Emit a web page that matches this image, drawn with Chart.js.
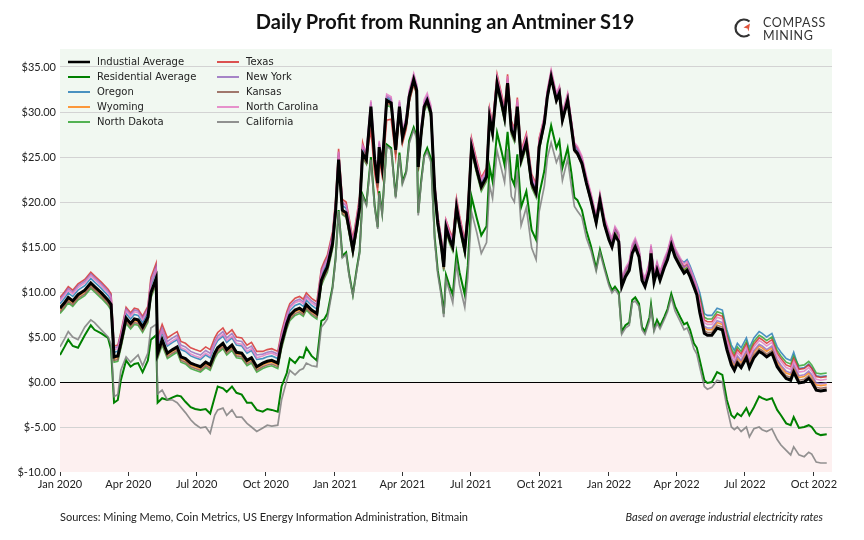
<!DOCTYPE html>
<html>
<head>
<meta charset="utf-8">
<script src="https://cdn.jsdelivr.net/npm/chart.js@4.4.0/dist/chart.umd.min.js"></script>
<style>
  body { margin: 0; background: #fff; font-family: Lato, "Open Sans", sans-serif; color: #222; }
  #page { position: relative; width: 864px; height: 540px; overflow: hidden; }
  #wrap { position: absolute; left: 0; top: 0; width: 864px; height: 540px; }
  #title { position: absolute; top: 9px; left: 0; width: 890px; text-align: center; font-weight: bold; font-size: 20px; color: #111; }
  #logo { position: absolute; left: 733px; top: 15px; width: 110px; height: 28px; }
  #logo svg { position: absolute; left: 0; top: 2px; }
  #logo .t { position: absolute; left: 30px; font-size: 12.5px; letter-spacing: 0.6px; color: #333; line-height: 12px; }
  #src { position: absolute; left: 60px; top: 510px; font-size: 11px; color: #222; }
  #note { position: absolute; right: 41px; top: 510px; font-size: 11px; font-style: italic; color: #222; }
</style>
</head>
<body>
<div id="page">
  <div id="wrap"><canvas id="profitChart"></canvas></div>
  <div id="title">Daily Profit from Running an Antminer S19</div>
  <div id="logo">
    <svg width="22" height="22" viewBox="0 0 22 22">
      <path d="M16.5 4.5 A8.5 8.5 0 1 0 16.5 17.5" fill="none" stroke="#333" stroke-width="2.2"/>
      <polygon points="17,6.5 10.5,10.5 14.5,11.5 15.5,14.5" fill="#e0533a"/>
    </svg>
    <div class="t" style="top:2px">COMPASS</div>
    <div class="t" style="top:15px">MINING</div>
  </div>
  <div id="src">Sources: Mining Memo, Coin Metrics, US Energy Information Administration, Bitmain</div>
  <div id="note">Based on average industrial electricity rates</div>
</div>
<script>
// days since 1 Jan 2020
const days = [0,6,11,17,24,33,41,46,55,64,68,72,77,81,88,94,99,104,110,117,
  121,128,130,136,143,150,156,161,167,174,180,187,194,200,206,210,217,222,229,235,242,249,255,262,
  270,276,282,290,295,302,306,313,319,324,328,335,342,348,352,356,363,
  367,371,376,381,385,390,395,399,403,408,
  414,419,423,425,429,435,441,447,452,456,461,465,471,475,477,481,
  485,489,494,499,503,508,511,514,519,523,528,532,539,543,548,555,561,568,572,576,582,588,592,596,601,605,609,614,621,628,634,638,
  645,649,654,661,665,669,676,681,685,689,695,701,707,714,719,725,
  731,735,739,744,748,753,758,762,766,771,775,779,785,787,791,795,799,805,809,814,819,826,831,835,839,844,848,
  852,858,862,868,875,882,888,894,898,902,907,914,918,924,931,935,941,948,955,960,967,973,977,984,991,997,1001,1007,1013,1021];

const industrial = [8.2,8.8,9.4,9.0,9.7,10.2,11.0,10.6,9.9,9.1,8.6,2.8,2.9,4.3,7.1,6.5,7.0,6.9,6.1,7.2,
  9.9,11.5,3.2,4.7,3.2,3.6,3.9,2.8,2.6,2.1,1.9,1.7,2.2,1.9,3.2,3.8,4.3,3.6,4.1,3.3,3.2,2.4,2.7,1.7,
  2.1,2.3,2.4,2.1,4.3,6.5,7.4,8.0,8.2,7.9,8.6,8.0,7.6,11.3,12.1,12.8,15.4,
  19.0,24.7,19.1,18.8,17.0,14.7,17.2,19.4,25.4,24.7,
  30.6,24.7,22.1,26.1,23.9,31.3,31.0,25.8,30.6,27.2,28.8,31.7,33.6,32.4,23.9,27.7,
  30.6,31.3,29.9,21.3,17.7,15.0,12.8,17.2,15.8,15.0,19.4,17.5,14.7,18.3,26.1,23.6,21.7,22.8,29.4,27.7,33.2,31.0,29.4,33.2,28.0,27.2,30.6,24.7,26.6,22.1,21.0,26.1,
  28.8,31.7,33.9,31.3,32.1,29.1,31.3,28.3,25.8,25.4,24.3,22.1,20.2,17.7,20.2,17.5,
  15.8,15.0,16.3,15.6,10.6,11.7,12.4,14.3,15.0,13.9,11.3,10.6,12.4,14.3,11.1,12.4,11.3,12.8,13.6,15.2,13.9,12.8,12.1,12.4,11.7,10.6,9.7,
  7.7,5.4,5.2,5.2,6.0,5.8,3.6,1.9,1.3,2.1,1.6,2.7,1.6,2.7,3.4,3.2,2.8,3.2,1.7,1.1,0.4,0.2,1.1,-0.1,0.0,0.4,0.0,-0.9,-1.0,-0.9];

const residential = [3.0,3.9,4.7,4.0,3.8,5.2,6.3,5.8,5.4,4.9,3.6,-2.3,-2.0,0.2,2.4,1.7,2.0,2.1,1.1,2.4,
  4.7,5.2,-2.3,-1.8,-2.0,-1.7,-1.5,-1.6,-2.2,-2.8,-3.0,-3.1,-3.0,-3.5,-1.7,-0.5,-0.7,-1.1,-0.5,-1.2,-1.4,-2.3,-2.3,-3.1,
  -3.3,-3.0,-3.1,-3.3,-0.5,1.0,2.6,2.1,2.8,2.7,3.8,2.9,2.4,6.8,7.0,7.6,10.6,
  13.8,19.1,14.0,14.4,12.0,9.7,12.5,14.5,20.8,19.8,
  25.0,19.6,17.2,21.2,18.8,26.4,26.0,20.6,25.5,22.2,23.4,26.8,28.3,27.3,18.8,22.4,
  25.2,26.0,24.8,16.0,12.4,9.8,7.6,11.9,10.6,9.7,14.3,12.2,9.7,12.9,20.6,18.2,16.3,17.3,23.9,22.3,27.7,25.6,24.1,27.8,22.7,21.9,25.3,19.4,21.2,16.9,15.8,20.8,
  23.5,26.4,28.5,26.0,26.8,23.8,26.0,23.2,20.5,20.2,19.1,16.8,15.1,12.6,14.7,12.8,
  11.0,10.2,10.6,10.0,5.6,6.3,6.6,9.1,9.4,8.7,6.1,5.6,7.2,8.6,5.9,6.9,6.2,7.3,8.1,9.8,8.4,7.2,6.4,6.6,5.8,4.3,3.8,
  2.4,0.2,-0.1,0.0,1.1,0.8,-2.0,-3.7,-4.0,-3.5,-3.8,-2.9,-3.7,-2.8,-1.6,-1.8,-2.0,-1.8,-3.1,-3.7,-4.6,-4.8,-3.9,-5.1,-5.0,-4.8,-5.0,-5.7,-5.9,-5.8];

const oregon = [8.7,9.3,9.9,9.5,10.2,10.7,11.5,11.1,10.4,9.6,9.1,3.3,3.4,4.8,7.6,7.0,7.5,7.4,6.6,7.7,
  10.7,12.3,4.0,5.5,4.0,4.4,4.7,3.6,3.4,2.9,2.7,2.5,3.0,2.7,4.0,4.6,5.1,4.4,4.9,4.1,4.0,3.2,3.5,2.5,
  2.6,2.8,2.9,2.6,4.8,7.0,7.9,8.5,8.7,8.4,9.1,8.5,8.1,11.8,12.6,13.3,15.9,
  19.5,25.2,19.6,19.3,17.5,15.2,17.7,19.9,25.9,25.2,
  30.9,25.0,22.4,26.4,24.2,31.6,31.3,26.1,30.9,27.5,29.1,32.0,33.9,32.7,24.2,28.0,
  30.9,31.6,30.2,21.6,18.0,15.3,13.1,17.5,16.1,15.3,19.7,17.8,15.0,18.6,26.4,23.9,22.0,23.1,29.7,28.0,33.5,31.3,29.7,33.5,28.3,27.5,30.9,25.0,26.9,22.4,21.3,26.4,
  29.2,32.1,34.3,31.7,32.5,29.5,31.7,28.7,26.2,25.8,24.7,22.5,20.6,18.1,20.6,17.9,
  16.6,15.8,17.1,16.4,11.4,12.5,13.2,15.1,15.8,14.7,12.1,11.4,13.2,15.1,11.9,13.2,12.1,13.6,14.4,16.0,14.7,13.6,13.3,13.6,12.9,11.8,10.9,
  9.9,7.6,7.4,7.4,8.2,8.0,5.8,4.1,3.5,4.3,3.8,4.9,3.8,4.9,5.6,5.4,5.0,5.4,3.9,3.3,2.6,2.4,3.3,1.5,1.6,2.0,1.6,0.7,0.6,0.7];

const wyoming = [8.0,8.6,9.2,8.8,9.5,10.0,10.8,10.4,9.7,8.9,8.4,2.6,2.7,4.1,6.9,6.3,6.8,6.7,5.9,7.0,
  9.7,11.3,3.0,4.5,3.0,3.4,3.7,2.6,2.4,1.9,1.7,1.5,2.0,1.7,3.0,3.6,4.1,3.4,3.9,3.1,3.0,2.2,2.5,1.5,
  1.9,2.1,2.2,1.9,4.1,6.3,7.2,7.8,8.0,7.7,8.4,7.8,7.4,11.1,11.9,12.6,15.2,
  18.8,24.5,18.9,18.6,16.8,14.5,17.0,19.2,25.2,24.5,
  30.4,24.5,21.9,25.9,23.7,31.1,30.8,25.6,30.4,27.0,28.6,31.5,33.4,32.2,23.7,27.5,
  30.4,31.1,29.7,21.1,17.5,14.8,12.6,17.0,15.6,14.8,19.2,17.3,14.5,18.1,25.9,23.4,21.5,22.6,29.2,27.5,33.0,30.8,29.2,33.0,27.8,27.0,30.4,24.5,26.4,21.9,20.8,25.9,
  28.8,31.7,33.9,31.3,32.1,29.1,31.3,28.3,25.8,25.4,24.3,22.1,20.2,17.7,20.2,17.5,
  16.2,15.4,16.7,16.0,11.0,12.1,12.8,14.7,15.4,14.3,11.7,11.0,12.8,14.7,11.5,12.8,11.7,13.2,14.0,15.6,14.3,13.2,12.5,12.8,12.1,11.0,10.1,
  8.3,6.0,5.8,5.8,6.6,6.4,4.2,2.5,1.9,2.7,2.2,3.3,2.2,3.3,4.0,3.8,3.4,3.8,2.3,1.7,1.0,0.8,1.7,0.5,0.6,1.0,0.6,-0.3,-0.4,-0.3];

const northDakota = [7.6,8.2,8.8,8.4,9.1,9.6,10.4,10.0,9.3,8.5,8.0,2.2,2.3,3.7,6.5,5.9,6.4,6.3,5.5,6.6,
  9.3,10.9,2.6,4.1,2.6,3.0,3.3,2.2,2.0,1.5,1.3,1.1,1.6,1.3,2.6,3.2,3.7,3.0,3.5,2.7,2.6,1.8,2.1,1.1,
  1.5,1.7,1.8,1.5,3.7,5.9,6.8,7.4,7.6,7.3,8.0,7.4,7.0,10.7,11.5,12.2,14.8,
  18.5,24.2,18.6,18.3,16.5,14.2,16.7,18.9,24.9,24.2,
  30.1,24.2,21.6,25.6,23.4,30.8,30.5,25.3,30.1,26.7,28.3,31.2,33.1,31.9,23.4,27.2,
  30.1,30.8,29.4,20.8,17.2,14.5,12.3,16.7,15.3,14.5,18.9,17.0,14.2,17.8,25.6,23.1,21.2,22.3,28.9,27.2,32.7,30.5,28.9,32.7,27.5,26.7,30.1,24.2,26.1,21.6,20.5,25.6,
  28.7,31.6,33.8,31.2,32.0,29.0,31.2,28.2,25.7,25.3,24.2,22.0,20.1,17.6,20.1,17.4,
  16.1,15.3,16.6,15.9,10.9,12.0,12.7,14.6,15.3,14.2,11.6,10.9,12.7,14.6,11.4,12.7,11.6,13.1,13.9,15.5,14.2,13.1,12.4,12.7,12.0,10.9,10.0,
  9.5,7.2,7.0,7.0,7.8,7.6,5.4,3.7,3.1,3.9,3.4,4.5,3.4,4.5,5.2,5.0,4.6,5.0,3.5,2.9,2.2,2.0,2.9,1.8,1.9,2.3,1.9,1.0,0.9,1.0];

const texas = [9.4,10.0,10.6,10.2,10.9,11.4,12.2,11.8,11.1,10.3,9.8,4.0,4.1,5.5,8.3,7.7,8.2,8.1,7.3,8.4,
  11.6,13.2,4.9,6.4,4.9,5.3,5.6,4.5,4.3,3.8,3.6,3.4,3.9,3.6,4.9,5.5,6.0,5.3,5.8,5.0,4.9,4.1,4.4,3.4,
  3.4,3.6,3.7,3.4,5.6,7.8,8.7,9.3,9.5,9.2,9.9,9.3,8.9,12.6,13.4,14.1,16.7,
  20.2,25.9,20.3,20.0,18.2,15.9,18.4,20.6,26.6,25.0,
  28.0,23.2,21.3,24.9,22.9,29.1,29.2,25.0,29.9,26.5,28.1,31.1,33.1,31.9,23.5,27.4,
  30.6,31.5,30.3,21.9,18.5,15.8,13.6,18.0,16.8,16.0,20.4,18.5,15.7,19.3,27.1,24.6,22.7,23.8,30.4,28.7,34.2,32.0,30.4,34.2,29.0,28.2,31.6,25.7,27.6,23.1,22.0,27.1,
  29.4,32.3,34.5,31.9,32.7,29.7,31.9,28.9,26.4,26.0,24.9,22.7,20.8,18.3,20.8,18.1,
  16.5,15.7,17.0,16.3,11.3,12.4,13.1,15.0,15.7,14.6,12.0,11.3,13.1,15.0,11.8,13.1,12.0,13.5,14.3,15.9,14.6,13.5,12.8,13.1,12.4,11.3,10.4,
  9.2,6.9,6.7,6.7,7.5,7.3,5.1,3.4,2.8,3.6,3.1,4.2,3.1,4.2,4.9,4.7,4.3,4.7,3.2,2.6,1.9,1.7,2.6,1.4,1.5,1.9,1.5,0.6,0.5,0.6];

const newYork = [9.2,9.8,10.4,10.0,10.7,11.2,12.0,11.6,10.9,10.1,9.6,3.8,3.9,5.3,8.1,7.5,8.0,7.9,7.1,8.2,
  11.2,12.8,4.5,6.0,4.5,4.9,5.2,4.1,3.9,3.4,3.2,3.0,3.5,3.2,4.5,5.1,5.6,4.9,5.4,4.6,4.5,3.7,4.0,3.0,
  3.1,3.3,3.4,3.1,5.3,7.5,8.4,9.0,9.2,8.9,9.6,9.0,8.6,12.3,13.1,13.8,16.4,
  19.8,25.5,19.9,19.6,17.8,15.5,18.0,20.2,26.2,25.5,
  31.1,25.2,22.6,26.6,24.4,31.8,31.5,26.3,31.1,27.7,29.3,32.2,34.1,32.9,24.4,28.2,
  31.1,31.8,30.4,21.8,18.2,15.5,13.3,17.7,16.3,15.5,19.9,18.0,15.2,18.8,26.6,24.1,22.2,23.3,29.9,28.2,33.7,31.5,29.9,33.7,28.5,27.7,31.1,25.2,27.1,22.6,21.5,26.6,
  29.3,32.2,34.4,31.8,32.6,29.6,31.8,28.8,26.3,25.9,24.8,22.6,20.7,18.2,20.7,18.0,
  16.4,15.6,16.9,16.2,11.2,12.3,13.0,14.9,15.6,14.5,11.9,11.2,13.0,14.9,11.7,13.0,11.9,13.4,14.2,15.8,14.5,13.4,12.7,13.0,12.3,11.2,10.3,
  8.5,6.2,6.0,6.0,6.8,6.6,4.4,2.7,2.1,2.9,2.4,3.5,2.4,3.5,4.2,4.0,3.6,4.0,2.5,1.9,1.2,1.0,1.9,0.7,0.8,1.2,0.8,-0.1,-0.2,-0.1];

const kansas = [7.8,8.4,9.0,8.6,9.3,9.8,10.6,10.2,9.5,8.7,8.2,2.4,2.5,3.9,6.7,6.1,6.6,6.5,5.7,6.8,
  9.5,11.1,2.8,4.3,2.8,3.2,3.5,2.4,2.2,1.7,1.5,1.3,1.8,1.5,2.8,3.4,3.9,3.2,3.7,2.9,2.8,2.0,2.3,1.3,
  1.7,1.9,2.0,1.7,3.9,6.1,7.0,7.6,7.8,7.5,8.2,7.6,7.2,10.9,11.7,12.4,15.0,
  18.6,24.3,18.7,18.4,16.6,14.3,16.8,19.0,25.0,24.3,
  30.3,24.4,21.8,25.8,23.6,31.0,30.7,25.5,30.3,26.9,28.5,31.4,33.3,32.1,23.6,27.4,
  30.3,31.0,29.6,21.0,17.4,14.7,12.5,16.9,15.5,14.7,19.1,17.2,14.4,18.0,25.8,23.3,21.4,22.5,29.1,27.4,32.9,30.7,29.1,32.9,27.7,26.9,30.3,24.4,26.3,21.8,20.7,25.8,
  28.6,31.5,33.7,31.1,31.9,28.9,31.1,28.1,25.6,25.2,24.1,21.9,20.0,17.5,20.0,17.3,
  15.9,15.1,16.4,15.7,10.7,11.8,12.5,14.4,15.1,14.0,11.4,10.7,12.5,14.4,11.2,12.5,11.4,12.9,13.7,15.3,14.0,12.9,12.2,12.5,11.8,10.7,9.8,
  8.0,5.7,5.5,5.5,6.3,6.1,3.9,2.2,1.6,2.4,1.9,3.0,1.9,3.0,3.7,3.5,3.1,3.5,2.0,1.4,0.7,0.5,1.4,0.2,0.3,0.7,0.3,-0.6,-0.7,-0.6];

const northCarolina = [9.0,9.6,10.2,9.8,10.5,11.0,11.8,11.4,10.7,9.9,9.4,3.6,3.7,5.1,7.9,7.3,7.8,7.7,6.9,8.0,
  10.9,12.5,4.2,5.7,4.2,4.6,4.9,3.8,3.6,3.1,2.9,2.7,3.2,2.9,4.2,4.8,5.3,4.6,5.1,4.3,4.2,3.4,3.7,2.7,
  2.9,3.1,3.2,2.9,5.1,7.3,8.2,8.8,9.0,8.7,9.4,8.8,8.4,12.1,12.9,13.6,16.2,
  19.9,25.6,20.0,19.7,17.9,15.6,18.1,20.3,26.3,25.6,
  31.3,25.4,22.8,26.8,24.6,32.0,31.7,26.5,31.3,27.9,29.5,32.4,34.3,33.1,24.6,28.4,
  31.4,32.1,30.7,22.1,18.5,15.8,13.6,18.0,16.6,15.8,20.2,18.3,15.5,19.1,26.9,24.4,22.5,23.6,30.2,28.5,34.0,31.8,30.2,34.0,28.8,28.0,31.4,25.5,27.4,22.9,21.8,26.9,
  29.6,32.5,34.7,32.1,32.9,29.9,32.1,29.1,26.6,26.2,25.1,22.9,21.0,18.5,21.0,18.3,
  16.8,16.0,17.3,16.6,11.6,12.7,13.4,15.3,16.0,14.9,12.3,11.6,13.4,15.3,12.1,13.4,12.3,13.8,14.6,16.2,14.9,13.8,13.1,13.4,12.7,11.6,10.7,
  8.9,6.6,6.4,6.4,7.2,7.0,4.8,3.1,2.5,3.3,2.8,3.9,2.8,3.9,4.6,4.4,4.0,4.4,2.9,2.3,1.6,1.4,2.3,1.1,1.2,1.6,1.2,0.3,0.2,0.3];

const california = [3.9,4.8,5.6,5.0,4.7,6.1,6.9,6.6,5.8,5.0,4.2,-1.6,-1.4,1.3,2.8,2.2,2.6,3.0,1.8,3.2,
  6.0,6.4,-1.3,-0.9,-2.0,-2.0,-2.3,-2.8,-3.4,-4.2,-4.7,-5.1,-5.0,-5.7,-3.7,-3.1,-2.9,-3.7,-3.1,-3.9,-3.9,-4.6,-5.0,-5.5,
  -5.1,-4.8,-4.9,-4.8,-2.0,0.2,1.3,0.8,1.3,1.5,2.1,1.8,1.7,6.1,6.5,7.0,10.4,
  13.6,19.0,13.8,14.2,11.8,9.6,12.3,14.3,20.6,19.6,
  24.7,19.4,17.0,21.0,18.6,26.2,25.8,20.4,25.2,22.0,23.2,26.5,28.0,27.0,18.5,22.1,
  25.0,25.6,24.4,15.6,12.0,9.4,7.2,11.4,10.0,8.8,13.2,10.8,8.3,11.6,18.9,16.6,14.3,15.5,21.9,20.4,25.7,23.6,22.2,25.9,20.6,20.0,23.4,17.4,19.4,14.9,13.6,18.9,
  21.8,24.9,26.6,24.4,25.2,22.4,24.8,21.7,19.5,19.0,18.3,16.0,14.6,12.3,14.4,12.5,
  10.7,9.9,10.3,9.7,5.3,6.0,6.3,8.8,9.0,8.4,5.8,5.3,6.8,8.2,5.6,6.5,5.9,7.0,7.8,9.4,7.9,6.7,5.8,6.0,5.2,3.7,3.1,
  1.6,-0.5,-0.8,-0.6,0.2,0.0,-2.8,-5.0,-5.3,-5.0,-5.5,-5.0,-6.1,-5.2,-5.0,-5.3,-5.5,-5.2,-6.4,-7.0,-7.6,-8.1,-7.2,-8.1,-8.3,-7.8,-8.0,-8.9,-9.0,-9.0];

const tickDays = [0, 91, 182, 274, 366, 456, 547, 639, 731, 821, 912, 1004];
const tickLabels = ['Jan 2020', 'Apr 2020', 'Jul 2020', 'Oct 2020', 'Jan 2021', 'Apr 2021',
  'Jul 2021', 'Oct 2021', 'Jan 2022', 'Apr 2022', 'Jul 2022', 'Oct 2022'];

// Chart.js paints dataset 0 on top, so the averages come first
const series = [
  { label: 'Industial Average', data: industrial, color: '#000000', width: 3 },
  { label: 'California', data: california, color: 'rgba(127,127,127,0.85)', width: 1.7 },
  { label: 'Residential Average', data: residential, color: '#008000', width: 2 },
  { label: 'North Carolina', data: northCarolina, color: 'rgba(227,119,194,0.8)', width: 1.6 },
  { label: 'Kansas', data: kansas, color: 'rgba(140,86,75,0.8)', width: 1.6 },
  { label: 'New York', data: newYork, color: 'rgba(148,103,189,0.8)', width: 1.6 },
  { label: 'Texas', data: texas, color: 'rgba(214,39,40,0.8)', width: 1.6 },
  { label: 'North Dakota', data: northDakota, color: 'rgba(44,160,44,0.8)', width: 1.6 },
  { label: 'Wyoming', data: wyoming, color: 'rgba(255,127,14,0.8)', width: 1.6 },
  { label: 'Oregon', data: oregon, color: 'rgba(31,119,180,0.8)', width: 1.6 }
];

const legendCols = [
  ['Industial Average', 'Residential Average', 'Oregon', 'Wyoming', 'North Dakota'],
  ['Texas', 'New York', 'Kansas', 'North Carolina', 'California']
];

// --- background bands + legend ---
const bandPlugin = {
  id: 'bands',
  beforeDraw(chart) {
    const { ctx, chartArea: a, scales } = chart;
    const y0 = scales.y.getPixelForValue(0);
    ctx.save();
    ctx.fillStyle = '#f1f8f1';
    ctx.fillRect(a.left, a.top, a.right - a.left, y0 - a.top);
    ctx.fillStyle = '#fdf0f0';
    ctx.fillRect(a.left, y0, a.right - a.left, a.bottom - y0);
    ctx.restore();
  },
  afterDraw(chart) {
    const ctx = chart.ctx;
    const byName = {};
    series.forEach(s => { byName[s.label] = s; });
    ctx.save();
    ctx.font = '10px "DejaVu Sans"';
    ctx.textBaseline = 'middle';
    legendCols.forEach((col, c) => {
      const x0 = c === 0 ? 68 : 217;
      col.forEach((name, r) => {
        const y = 62 + r * 15;
        const s = byName[name];
        ctx.strokeStyle = s.color;
        ctx.lineWidth = name === 'Industial Average' ? 2.5 : 2;
        ctx.beginPath();
        ctx.moveTo(x0, y);
        ctx.lineTo(x0 + 22, y);
        ctx.stroke();
        ctx.fillStyle = '#222';
        ctx.fillText(name, x0 + 29, y + 0.5);
      });
    });
    ctx.restore();
  }
};

const ctx = document.getElementById('profitChart').getContext('2d');
const chart = new Chart(ctx, {
  type: 'line',
  data: {
    datasets: series.map(s => ({
      label: s.label,
      data: days.map((d, i) => ({ x: d, y: s.data[i] })),
      borderColor: s.color,
      borderWidth: s.width,
      pointRadius: 0,
      tension: 0,
      fill: false
    }))
  },
  options: {
    responsive: true,
    maintainAspectRatio: false,
    animation: false,
    layout: { padding: { top: 49, right: 32, bottom: 40, left: 0 } },
    plugins: { legend: { display: false }, tooltip: { enabled: false } },
    scales: {
      x: {
        type: 'linear',
        min: 0,
        max: 1028,
        afterBuildTicks: scale => { scale.ticks = tickDays.map(v => ({ value: v })); },
        afterFit: scale => { scale.height = 28; },
        border: { display: false },
        grid: { drawOnChartArea: false, drawTicks: true, tickLength: 4, color: '#333' },
        ticks: {
          autoSkip: false,
          maxRotation: 0,
          padding: 2,
          color: '#222',
          font: { family: 'Lato', size: 11 },
          callback: v => tickLabels[tickDays.indexOf(v)]
        }
      },
      y: {
        min: -10,
        max: 37,
        afterBuildTicks: scale => {
          const t = [];
          for (let v = -10; v <= 35; v += 5) t.push({ value: v });
          scale.ticks = t;
        },
        afterFit: scale => { scale.width = 60; },
        border: { display: false },
        grid: {
          drawTicks: false,
          color: c => c.tick.value === 0 ? '#000' : (c.tick.value === -10 ? 'rgba(0,0,0,0)' : '#d3d3d3'),
          lineWidth: 1
        },
        ticks: {
          padding: 4,
          color: '#222',
          font: { family: 'Lato', size: 11 },
          callback: v => '$' + v.toFixed(2)
        }
      }
    }
  },
  plugins: [bandPlugin]
});
</script>
</body>
</html>
